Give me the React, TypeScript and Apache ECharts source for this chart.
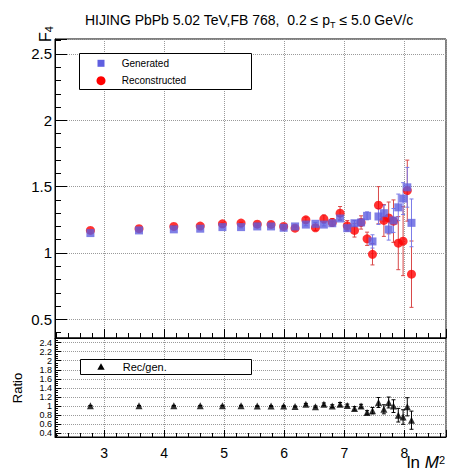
import React, { useEffect, useRef } from 'react';
import * as echarts from 'echarts';

// ln M^2 bin positions
const lnM2 = [2.77, 3.58, 4.16, 4.6, 4.97, 5.28, 5.55, 5.78, 5.99, 6.18, 6.36, 6.52, 6.66, 6.8, 6.93, 7.05, 7.17, 7.28, 7.38, 7.47, 7.57, 7.66, 7.74, 7.82, 7.9, 7.98, 8.05, 8.12];
const generated = [1.15, 1.17, 1.178, 1.183, 1.195, 1.195, 1.2, 1.2, 1.19, 1.2, 1.214, 1.22, 1.214, 1.224, 1.26, 1.187, 1.224, 1.23, 1.28, 1.087, 1.275, 1.3, 1.177, 1.245, 1.344, 1.41, 1.495, 1.227];
const generatedErr = [0.004, 0.004, 0.004, 0.005, 0.005, 0.006, 0.006, 0.007, 0.008, 0.008, 0.009, 0.01, 0.01, 0.012, 0.015, 0.018, 0.02, 0.025, 0.03, 0.05, 0.06, 0.06, 0.08, 0.09, 0.1, 0.12, 0.15, 0.18];
const reconstructed = [1.17, 1.183, 1.2, 1.203, 1.22, 1.225, 1.217, 1.215, 1.2, 1.187, 1.25, 1.19, 1.257, 1.23, 1.3, 1.205, 1.17, 1.23, 1.107, 0.99, 1.36, 1.245, 1.264, 1.24, 1.074, 1.089, 1.47, 0.84];
const reconstructedErr = [0.005, 0.005, 0.005, 0.006, 0.006, 0.007, 0.008, 0.009, 0.01, 0.012, 0.02, 0.02, 0.03, 0.03, 0.05, 0.04, 0.05, 0.05, 0.05, 0.08, 0.14, 0.12, 0.12, 0.16, 0.2, 0.26, 0.23, 0.25];
const ratio = [1.01, 1.01, 1.01, 1.01, 1.01, 1.01, 1.0, 1.0, 1.0, 0.99, 1.04, 0.985, 1.04, 1.0, 1.04, 1.015, 0.95, 1.0, 0.86, 0.9, 1.08, 0.93, 1.08, 1.0, 0.8, 0.76, 0.985, 0.69];
const ratioErr = [0.005, 0.005, 0.006, 0.006, 0.007, 0.008, 0.009, 0.01, 0.011, 0.012, 0.02, 0.02, 0.03, 0.03, 0.04, 0.03, 0.04, 0.04, 0.04, 0.07, 0.11, 0.1, 0.12, 0.14, 0.15, 0.16, 0.2, 0.2];

const X_MIN = 2.18;
const X_MAX = 8.695;
const TOP_Y_MIN = 0.359;
const TOP_Y_MAX = 2.613;
const BOT_Y_MIN = 0.32;
const BOT_Y_MAX = 2.5;

const FONT = '"Liberation Sans", Arial, Helvetica, sans-serif';
const BLUE = '#5f5fe0';
const BLUE_ERR = '#7c7ce8';
const RED = '#ff0000';
const RED_ERR = '#d84848';

const isMultiple = (v: number, step: number) => Math.abs(v / step - Math.round(v / step)) < 1e-6;

function errorSeries(xi: number, yi: number, ys: number[], errs: number[], color: string) {
  return {
    type: 'custom',
    xAxisIndex: xi,
    yAxisIndex: yi,
    silent: true,
    clip: true,
    encode: { x: 0, y: [1, 2] },
    data: lnM2.map((x, i) => [x, ys[i] - errs[i], ys[i] + errs[i]]),
    renderItem: (params: any, api: any) => {
      const x = api.value(0);
      const lo = api.coord([x, api.value(1)]);
      const hi = api.coord([x, api.value(2)]);
      const cap = 2;
      const st = { stroke: color, lineWidth: 1 };
      return {
        type: 'group',
        children: [
          { type: 'line', shape: { x1: lo[0], y1: lo[1], x2: hi[0], y2: hi[1] }, style: st },
          { type: 'line', shape: { x1: lo[0] - cap, y1: lo[1], x2: lo[0] + cap, y2: lo[1] }, style: st },
          { type: 'line', shape: { x1: hi[0] - cap, y1: hi[1], x2: hi[0] + cap, y2: hi[1] }, style: st },
        ],
      };
    },
  };
}

const splitLine = { show: true, lineStyle: { type: 'dotted', color: '#9a9a9a', width: 1 } };
const black = { color: '#000', width: 1 };

function txt(text: string, x: number, y: number, size: number, align = 'left', extra: any = {}) {
  return {
    type: 'text',
    x,
    y,
    z: 100,
    ...extra,
    style: {
      text,
      fontSize: size,
      fontFamily: FONT,
      fill: '#000',
      align,
      verticalAlign: 'middle',
      textAlign: align,
      textVerticalAlign: 'middle',
      ...(extra.style || {}),
    },
  };
}

const option: any = {
  animation: false,
  backgroundColor: '#fff',
  grid: [
    { left: 55, top: 39, width: 391, height: 299, show: true, borderColor: '#000', borderWidth: 1 },
    { left: 55, top: 338, width: 391, height: 99, show: true, borderColor: '#000', borderWidth: 1 },
  ],
  xAxis: [
    {
      gridIndex: 0, type: 'value', min: X_MIN, max: X_MAX,
      axisLabel: { show: false },
      axisLine: { show: true, lineStyle: black },
      axisTick: { show: true, inside: true, length: 9, lineStyle: black },
      minorTick: { show: true, splitNumber: 5, length: 5, lineStyle: black },
      splitLine,
    },
    {
      gridIndex: 1, type: 'value', min: X_MIN, max: X_MAX,
      axisLabel: {
        show: true, fontSize: 14, fontFamily: FONT, color: '#000', margin: 9,
        formatter: (v: number) => (isMultiple(v, 1) ? String(v) : ''),
      },
      axisLine: { show: true, lineStyle: black },
      axisTick: { show: true, inside: true, length: 7, lineStyle: black },
      minorTick: { show: true, splitNumber: 5, length: 4, lineStyle: black },
      splitLine,
    },
  ],
  yAxis: [
    {
      gridIndex: 0, type: 'value', min: TOP_Y_MIN, max: TOP_Y_MAX, splitNumber: 5,
      axisLabel: {
        show: true, fontSize: 15, fontFamily: FONT, color: '#000', margin: 3,
        formatter: (v: number) => (isMultiple(v, 0.5) ? String(v) : ''),
      },
      axisLine: { show: true, lineStyle: black },
      axisTick: { show: true, inside: true, length: 12, lineStyle: black },
      minorTick: { show: true, splitNumber: 5, length: 6, lineStyle: black },
      splitLine,
    },
    {
      gridIndex: 1, type: 'value', min: BOT_Y_MIN, max: BOT_Y_MAX, splitNumber: 11,
      axisLabel: {
        show: true, fontSize: 9, lineHeight: 9, fontFamily: FONT, color: '#000', margin: 3,
        formatter: (v: number) => (isMultiple(v, 0.2) ? String(Math.round(v * 10) / 10) : ''),
      },
      axisLine: { show: true, lineStyle: black },
      axisTick: { show: true, inside: true, length: 6, lineStyle: black },
      minorTick: { show: true, splitNumber: 4, length: 3, lineStyle: black },
      splitLine,
    },
  ],
  series: [
    errorSeries(0, 0, reconstructed, reconstructedErr, RED_ERR),
    {
      type: 'scatter', name: 'Reconstructed', xAxisIndex: 0, yAxisIndex: 0, clip: true,
      symbol: 'circle', symbolSize: 9, itemStyle: { color: RED },
      data: lnM2.map((x, i) => [x, reconstructed[i]]),
    },
    errorSeries(0, 0, generated, generatedErr, BLUE_ERR),
    {
      type: 'scatter', name: 'Generated', xAxisIndex: 0, yAxisIndex: 0, clip: true,
      symbol: 'rect', symbolSize: 8, itemStyle: { color: BLUE },
      data: lnM2.map((x, i) => [x, generated[i]]),
    },
    errorSeries(1, 1, ratio, ratioErr, '#000'),
    {
      type: 'scatter', name: 'Rec/gen.', xAxisIndex: 1, yAxisIndex: 1, clip: true,
      symbol: 'triangle', symbolSize: 7, itemStyle: { color: '#000' },
      data: lnM2.map((x, i) => [x, ratio[i]]),
    },
  ],
  graphic: [
    // title
    {
      type: 'text', x: 249, y: 20, z: 100,
      style: {
        text: '{a|HIJING PbPb 5.02 TeV,FB 768,  0.2 ≤ p}{s|T}{a| ≤ 5.0 GeV/c}',
        align: 'center', verticalAlign: 'middle', textAlign: 'center', textVerticalAlign: 'middle',
        rich: {
          a: { fontSize: 14, fontFamily: FONT, fill: '#000', lineHeight: 18, verticalAlign: 'middle' },
          s: { fontSize: 9, fontFamily: FONT, fill: '#000', lineHeight: 9, verticalAlign: 'bottom' },
        },
      },
    },
    // y title top
    {
      type: 'text', x: 45, y: 26, z: 100, rotation: Math.PI / 2,
      style: {
        text: '{f|F}{s|4}',
        align: 'right', verticalAlign: 'middle', textAlign: 'right', textVerticalAlign: 'middle',
        rich: {
          f: { fontSize: 16, fontFamily: FONT, fill: '#000', lineHeight: 18, verticalAlign: 'middle' },
          s: { fontSize: 11, fontFamily: FONT, fill: '#000', lineHeight: 11, verticalAlign: 'bottom' },
        },
      },
    },
    // Ratio label
    txt('Ratio', 17, 388, 13, 'center', { rotation: Math.PI / 2 }),
    // x title
    {
      type: 'text', x: 445, y: 462, z: 100,
      style: {
        text: '{a|ln }{i|M}{s|2}',
        align: 'right', verticalAlign: 'middle', textAlign: 'right', textVerticalAlign: 'middle',
        rich: {
          a: { fontSize: 17, fontFamily: FONT, fill: '#000', lineHeight: 16, verticalAlign: 'middle' },
          i: { fontSize: 17, fontFamily: FONT, fontStyle: 'italic', fill: '#000', lineHeight: 16, verticalAlign: 'middle' },
          s: { fontSize: 11, fontFamily: FONT, fill: '#000', lineHeight: 10, verticalAlign: 'top' },
        },
      },
    },
    // top legend
    {
      type: 'rect', z: 99, shape: { x: 79.5, y: 53.5, width: 172, height: 36 },
      style: { fill: '#fff', stroke: '#000', lineWidth: 1 },
    },
    { type: 'rect', z: 100, shape: { x: 97.5, y: 59.8, width: 7, height: 7 }, style: { fill: BLUE } },
    { type: 'circle', z: 100, shape: { cx: 101, cy: 80.7, r: 4.5 }, style: { fill: RED } },
    txt('Generated', 121.7, 63.3, 10),
    txt('Reconstructed', 121.7, 80.7, 10),
    // bottom legend
    {
      type: 'rect', z: 99, shape: { x: 80.5, y: 359.5, width: 171, height: 15 },
      style: { fill: '#fff', stroke: '#000', lineWidth: 1 },
    },
    {
      type: 'polygon', z: 100, shape: { points: [[101, 363.2], [97.3, 369.8], [104.7, 369.8]] },
      style: { fill: '#000' },
    },
    txt('Rec/gen.', 122.7, 366.7, 11),
  ],
};

export default function App() {
  const ref = useRef<HTMLDivElement>(null);
  useEffect(() => {
    const chart = echarts.init(ref.current!, null, { renderer: 'svg' });
    chart.setOption(option);
    return () => chart.dispose();
  }, []);
  return (
    <div
      ref={ref}
      style={{ position: 'absolute', left: 0, top: 0, width: 450, height: 472, background: '#fff' }}
    />
  );
}
